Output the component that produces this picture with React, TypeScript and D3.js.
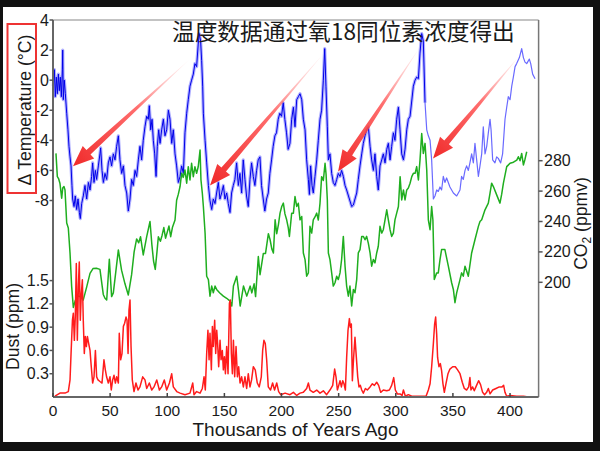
import React from 'react';
import * as d3 from 'd3';

// ---- data ----
// Temperature anomaly (°C) vs thousands of years ago
const TEMP: [number, number][] = [
  [0.3,-0.4],[1.2,0.7],[2.0,-1.1],[2.9,0.2],[3.8,-0.9],[4.7,0.4],[5.5,-0.7],[6.4,0.2],[7.3,-1.1],[8.2,0.7],[8.5,2.0],[9.0,-1.3],[9.9,0],[10.8,-0.9],
  [12,-2.2],[13.1,-3.3],[14,-4.4],[14.9,-5.1],[15.8,-5.7],[16.6,-7.0],[17.2,-7.9],[18.4,-8.4],[19.5,-7.7],[20.7,-8.6],[21.9,-7.9],[23.1,-8.8],[23.9,-9.2],
  [25.1,-8.2],[26.5,-7.7],[28,-7.0],[29.5,-7.9],[31,-6.8],[32.4,-7.3],[33.8,-6.4],[34.7,-5.5],[35.9,-6.8],[37.1,-6.0],[38.2,-6.6],[39.7,-5.7],[41.1,-4.9],
  [41.7,-4.5],[42.9,-6.0],[44.1,-6.8],[45.5,-6.2],[47,-6.6],[48.4,-5.5],[49.9,-5.1],[51.3,-5.7],[52.8,-4.9],[54.3,-5.3],[55.7,-4.4],[57.2,-3.7],[58.6,-5.3],
  [60.1,-6.2],[61.6,-5.7],[63,-7.0],[64.5,-7.5],[65.9,-8.7],[67.4,-7.9],[68.8,-6.6],[70.3,-7.0],[71.8,-6.0],[73.2,-6.4],[74.7,-5.3],[76.1,-4.4],[77.6,-5.3],
  [79,-4.0],[80.5,-3.1],[82,-2.4],[83.4,-2.6],[84.3,-1.7],[85.5,-3.3],[86.7,-2.6],[87.8,-4.0],[89,-4.9],[90.2,-6.4],[91.3,-4.4],[92.5,-3.3],[93.7,-4.2],
  [95.1,-3.3],[96.6,-2.6],[98,-3.7],[99.5,-3.3],[101,-2.0],[102.4,-2.6],[103.9,-4.2],[105.3,-3.3],[106.8,-4.9],[108.2,-5.7],[109.7,-6.8],[111.2,-6.4],
  [112.6,-5.7],[114.1,-6.2],[115.5,-3.5],[117,-2.2],[118.4,-1.3],[119.9,-0.4],[121.3,0],[122.8,0.4],[124.2,1.1],[125.7,0.9],[127.1,2.4],[128,3.1],[129.2,2.6],
  [130.1,1.3],[131,-0.4],[131.6,-2.2],[133.1,-4.0],[134.5,-5.5],[136,-7.0],[137.4,-8.0],[138.9,-8.6],[140.3,-7.9],[141.8,-8.2],[143.2,-7.5],[144.7,-6.8],
  [146.1,-7.9],[147.6,-7.5],[149.1,-7.0],[150.5,-7.9],[152,-7.5],[153.4,-8.2],[154.9,-8.8],[156.3,-7.5],[157.8,-7.0],[159.2,-6.6],[160.7,-5.5],[162.2,-7.0],
  [163.6,-6.2],[165.1,-7.5],[166.5,-5.3],[168,-6.6],[169.4,-7.7],[170.9,-8.4],[172.4,-6.6],[173.8,-5.5],[175.3,-6.4],[176.7,-7.0],[178.2,-6.0],[179.6,-5.3],
  [181.1,-5.1],[182.5,-7.0],[184,-7.9],[185.4,-8.7],[186.9,-7.9],[188.4,-7.5],[189.8,-6.2],[191.3,-5.3],[192.7,-4.4],[194.2,-3.7],[195.6,-3.5],[197.1,-2.6],
  [198.5,-2.2],[200,-2.4],[201.5,-1.5],[202.9,-2.6],[204.4,-3.5],[205.8,-4.6],[207.4,-4.2],[208.9,-2.6],[210.4,-1.8],[211.8,-3.1],[213.3,-1.3],[214.7,-1.1],
  [216.2,-0.9],[217.7,-1.3],[219.1,-2.6],[220.6,-3.3],[222,-5.3],[223.5,-6.6],[224.4,-7.6],[225.5,-5.7],[226.7,-7.0],[227.8,-7.5],[229.3,-6.4],[230.8,-5.3],
  [232.2,-4.0],[233.7,-2.6],[235.1,-2.0],[236.6,0],[237.8,2.1],[238.9,-0.4],[240.1,-3.1],[241,-5.3],[242.4,-4.9],[243.9,-6.2],[245.3,-6.8],[246.8,-7.0],
  [248.3,-6.6],[249.7,-6.2],[251.2,-6.4],[252.6,-6.0],[254.1,-6.4],[255.6,-7.0],[257,-7.3],[259.4,-7.9],[261.4,-8.4],[262.9,-8.3],[264.3,-7.9],[265.8,-7.5],
  [267.2,-6.6],[268.7,-5.7],[270.2,-4.9],[271.6,-4.2],[273.1,-3.7],[274.5,-3.3],[276,-3.1],[277.5,-4.4],[278.9,-5.3],[280.4,-6.0],[281.8,-4.9],[283.3,-6.4],
  [284.7,-7.3],[286.2,-5.7],[287.7,-5.3],[289.1,-4.9],[290.6,-5.5],[292.1,-4.6],[293.5,-4.2],[295,-5.3],[296.4,-4.4],[297.9,-3.5],[299.3,-4.0],[300.8,-2.6],
  [302.3,-1.8],[303.7,-3.3],[305.2,-4.9],[306.7,-5.3],[308.1,-4.6],[309.6,-3.3],[311,-2.6],[312.5,-2.4],[315.4,-0.4],[316.9,0],[318.3,0.2],[319.8,0.1],
  [321.2,1.8],[322.7,3.1],[324.1,2.6],[325.6,-1.5],[327.1,-3.3],[328.5,-3.7],[330,-4.0],[331.4,-5.3],[332.9,-7.9],[334.3,-7.7],[335.8,-7.3],[337.2,-7.4],
  [338.7,-7.1],[340.1,-7.3],[341.6,-6.4],[343,-6.8],[344.5,-6.5],[347.4,-7.1],[350.4,-7.5],[353.3,-7.7],[356.2,-7.3],[357.6,-6.4],[359.1,-6.6],[360.6,-6.0],
  [362,-5.7],[363.5,-6.0],[364.9,-5.5],[366.4,-4.9],[367.9,-5.5],[369.3,-4.2],[370.8,-5.3],[372.3,-6.4],[373.7,-5.7],[375.2,-4.9],[376.6,-3.1],[378.1,-4.9],
  [379.6,-4.4],[381,-3.5],[382.5,-2.6],[383.4,-3.3],[384.8,-5.3],[386.8,-5.5],[388.3,-5.1],[389.7,-5.2],[391.8,-5.5],[393.5,-4.9],[395.6,-2.6],[397.1,-1.8],
  [398.5,-1.1],[400,-1.3],[401.5,-0.4],[402.9,0.2],[404.4,0.9],[405.8,1.1],[408.2,1.5],[410.2,2.1],[411.7,1.5],[413.1,1.2],[414.6,1.1],[416.1,1.3],
  [416.9,1.4],[418.1,1.1],[419.8,0.4],[421.9,0.1],
];

// CO2 (ppmv)
const CO2: [number, number][] = [
  [2.6,284.8],[3.8,269.5],[5,268],[6.1,265],[7.6,255.3],[8.5,262],[9.6,263],[10.5,260.8],[12,239],[13.4,235.7],[14.9,219.3],[16.3,197.5],[17.8,183.5],
  [19.5,188],[21.5,191],[23.6,190.6],[26.5,188.4],[29.5,197],[32.4,205.9],[35,209],[38,209.2],[41.1,208.5],[44,192],[45.5,189.5],[47,188.4],[49.3,215.1],
  [51.3,190.6],[52.8,193],[57.2,221.3],[60,208],[63,199],[65.9,191.7],[68.8,205],[71,220],[73.2,228.5],[75,226],[76.6,230],[79,218],[82,230],[84.9,240],
  [86.5,225],[88,214],[89.5,208.5],[91,220],[92.2,230],[94,227],[95.5,231],[97,236],[98.5,229],[100,233],[101.5,237],[103,230],[104.5,236],[106.8,241],
  [108.2,254],[109.7,258],[111.2,263],[112.6,271.7],[114,269],[115.5,273.9],[117,265.2],[118.4,276.1],[119.9,267.3],[121.3,278.3],[122.8,269.5],[124.2,276],
  [125.7,271.7],[127.1,276],[128.7,287],[129.5,267.3],[130.7,258.6],[131.6,249.9],[133.1,232.4],[134.5,204],[136,201.8],[137.4,190.9],[138.9,197.5],
  [140.3,193.1],[141.8,197.5],[143.2,195.3],[146,193],[149.1,190.9],[152,189.5],[155,187.6],[156.5,184.4],[157.9,197.5],[160.8,204],[162.3,195],[163.8,184.4],
  [166.7,197.5],[169.6,190.9],[172.6,197.5],[174,193],[176,199],[177.3,190.6],[179.7,217],[181.2,205],[184.1,219],[186,219],[188.5,232],[190,228],
  [191.5,222],[192.9,219.3],[194.4,241.1],[195.8,232],[197.3,238],[198.7,245.5],[200.2,249.9],[201.6,252.1],[203,245],[204.5,241.1],[205.9,236],[206.9,230.2],
  [208.9,245.5],[210.4,245.5],[211.8,256.4],[213.3,249.9],[214.7,252],[216.2,241.1],[217.7,243.3],[219.1,219.3],[220.6,214.9],[222,204],[223.5,206.2],
  [224.9,236.8],[226.4,232.4],[227.8,241.1],[229.3,243],[230.8,245.5],[232.2,241],[233.7,252.1],[235.1,269.5],[236.6,267],[238.1,278.3],[239,271],[240.1,254.2],
  [241,219.3],[242.4,214.9],[243.9,206.2],[245.3,197.5],[246.8,199.7],[248.3,204],[249.7,201.8],[251.2,206.2],[252.6,215],[254.1,230.2],[255.6,210.6],
  [257,197.5],[258.5,190.9],[259.9,197.5],[261.4,184.4],[262.9,195.3],[264.3,193.1],[265.8,201.8],[267.2,219.3],[268.7,221.5],[270.2,230.2],[271.6,230.2],
  [273.1,228],[274.5,230.2],[276,225.6],[277.5,219.3],[278.9,210.6],[280.4,215],[281.8,212.8],[283.3,219.3],[284.7,223.7],[286.2,236.8],[287.7,232.4],
  [289.1,234.6],[290.6,241.1],[292.1,247.7],[293.5,241.1],[295,234.6],[296.4,230.2],[297.9,232.4],[299.3,241.1],[300.8,245.5],[302.3,249.9],[303.8,269.5],
  [305.2,254.2],[306.7,260.8],[308.1,254.2],[309.6,260.8],[311,262],[312.5,265.2],[314,269.5],[315.4,271.7],[316.9,271.7],[318.3,276.1],[319.8,267.3],
  [321.2,280.4],[322.7,297.9],[324.1,284.8],[325.6,291.4],[327.1,273.9],[328.5,241.1],[330,234.6],[331.4,249.9],[332.5,241],[333.7,201.8],[335.8,206.2],
  [337.2,206.2],[338.7,214.9],[340.1,221.5],[343,221.5],[346,210.6],[348.9,199.7],[350.4,195.3],[351.8,186.6],[353.3,193],[356.2,201.8],[357.6,206.2],
  [359.1,204],[360.6,210.6],[363.5,204],[366.4,219.3],[369.3,228],[372.3,236.8],[373.7,240],[375.2,241.1],[378.1,247.7],[381,252.1],[382.5,258.6],
  [383.9,265.2],[385.4,263],[388.3,257.5],[391.2,252.1],[392.7,258],[394.2,265.2],[397.1,276.1],[400,278.3],[403,279],[405.9,280.4],[407.3,282.6],
  [408.8,280],[410.2,284.8],[411.7,277.2],[413.1,281],[414.6,285.9],
];

// Dust (ppm)
const DUST: [number, number][] = [
  [1.7,0.01],[6.1,0.05],[10.5,0.05],[13.4,0.07],[14.9,0.22],[15.8,0.56],[17,0.99],[17.8,1.08],[18.7,0.73],[19.5,1.03],[20.4,1.72],[21.3,0.73],[22.2,1.42],
  [23,1.74],[23.9,0.99],[24.8,1.33],[25.7,1.51],[26.5,0.99],[27.4,0.56],[28.3,0.78],[29.2,0.65],[30.1,0.78],[31.2,0.69],[32.4,0.6],[33.5,0.39],[34.7,0.18],
  [35.9,0.26],[37.1,0.6],[38.2,0.26],[39.4,0.22],[41.1,0.2],[42.9,0.18],[44.6,0.48],[45.8,0.35],[46.9,0.26],[48.4,0.18],[49.9,0.26],[51,0.09],[52.2,0.22],
  [53.4,0.28],[54.6,0.18],[55.7,0.26],[57.2,0.18],[58,0.82],[59.2,0.48],[60.4,0.56],[61.6,0.91],[62.7,0.95],[63.9,1.03],[64.8,0.99],[65.7,0.56],[66.5,1.12],
  [67.4,1.25],[68.3,0.65],[69.4,0.22],[70.9,0.07],[72.6,0.18],[74.4,0.09],[76.1,0.13],[78.5,0.26],[80.5,0.22],[82,0.11],[84.3,0.18],[86.4,0.09],[88.4,0.13],
  [90.8,0.22],[93.1,0.09],[95.1,0.13],[97.4,0.22],[99.5,0.09],[101.9,0.18],[103.9,0.3],[105.3,0.13],[108.3,0.07],[111.2,0.05],[115.5,0.03],[119.9,0.05],
  [122.3,0.18],[123.4,0.03],[125.7,0.07],[128.7,0.05],[130.7,0.11],[132.2,0.26],[133.3,0.09],[134.5,0.56],[135.6,0.86],[136.6,0.48],[137.4,0.82],[138.6,0.35],
  [139.5,0.91],[140.3,0.65],[141.5,0.99],[142.4,0.56],[143.3,0.86],[144.1,0.69],[145,0.39],[146.2,0.73],[147.1,0.48],[148.2,0.6],[149.1,0.35],[150,0.52],
  [150.9,0.3],[152,0.65],[153.2,0.3],[154.4,1.21],[155.2,1.25],[156.1,0.56],[157,0.3],[157.9,0.73],[159,0.26],[160.2,0.65],[161.4,0.26],[162.5,0.39],
  [163.7,0.18],[165.1,0.26],[166.6,0.13],[168,0.26],[169.5,0.11],[170.9,0.3],[172.4,0.13],[173.8,0.22],[175.3,0.39],[177,0.35],[178.8,0.18],[180.5,0.13],
  [182.3,0.26],[183.5,0.6],[184.6,0.73],[185.8,0.69],[187,0.48],[188.4,0.13],[190.4,0.09],[192.2,0.18],[193.9,0.09],[195.8,0.18],[197.5,0.07],[199.3,0.03],
  [203.1,0.05],[207.4,0.03],[210.4,0.06],[213.3,0.02],[216.2,0.05],[219.1,0.06],[222,0.11],[223.5,0.18],[224.9,0.09],[227.8,0.06],[230.8,0.09],[233.7,0.05],
  [236.6,0.08],[239.5,0.03],[242.4,0.09],[244.8,0.15],[246.5,0.36],[247.7,0.26],[248.9,0.09],[250.1,0.15],[251.2,0.21],[252.4,0.13],[253.6,0.21],[254.7,0.17],
  [255.9,0.09],[257,0.51],[258.2,0.86],[259.4,1.01],[260.2,0.9],[261.1,0.94],[262,0.21],[263.1,0.51],[264.3,0.77],[265.5,0.51],[266.7,0.26],[267.8,0.13],
  [269,0.15],[270.2,0.09],[271.6,0.05],[273.4,0.11],[275.1,0.09],[277.5,0.13],[279.5,0.17],[281.3,0.15],[283.3,0.19],[285,0.15],[286.8,0.06],[289.1,0.09],
  [292.1,0.08],[294.4,0.09],[296.4,0.15],[298.2,0.25],[299.6,0.09],[301.4,0.04],[303.7,0.04],[305.5,0.02],[306.7,0.09],[308.4,0.01],[311,0.03],[314,0.01],
  [318.3,0.01],[322.7,0.01],[326.5,0.01],[328.5,0.09],[330,0.17],[331.4,0.39],[332.9,0.69],[334,0.94],[334.9,1.03],[335.8,0.81],[336.6,0.51],[337.8,0.39],
  [339,0.43],[340.1,0.34],[341.3,0.17],[342.5,0.06],[343.9,0.17],[345.7,0.3],[347.4,0.36],[349.8,0.39],[352.1,0.39],[354.1,0.35],[356.2,0.3],[358.2,0.19],
  [360,0.11],[362,0.09],[363.8,0.13],[364.9,0.25],[365.8,0.09],[367.2,0.13],[368.7,0.08],[370.7,0.15],[372.5,0.21],[374.2,0.16],[376,0.06],[377.7,0.03],
  [379.5,0.06],[381,0.11],[382.5,0.04],[384.8,0.09],[387.7,0.11],[390.6,0.13],[393,0.13],[394.4,0.15],[395.6,0.06],[397.1,0.01],[400,0.02],[405.8,0.01],
  [411.7,0.01],[416.1,0.0],
];

const X_TICKS = [0, 50, 100, 150, 200, 250, 300, 350, 400];
const TEMP_TICKS = [4, 2, 0, -2, -4, -6, -8];
const CO2_TICKS = [200, 220, 240, 260, 280];
const DUST_TICKS = [0.3, 0.6, 0.9, 1.2, 1.5];

// annotation arrows: [tail year, tail °C] -> [head year, head °C]
const ARROW_FROM: [number, number][] = [[119.9, 1.4], [237.2, 1.8], [321.2, 2.2], [408.8, 1.67]];
const ARROW_TO: [number, number][] = [[17.5, -5.73], [137.4, -7.0], [249.5, -6.07], [332.6, -5.2]];

const TITLE = '温度数据通过氧18同位素浓度得出';
const X_LABEL = 'Thousands of Years Ago';
const TEMP_LABEL = 'Δ Temperature (°C)';
const DUST_LABEL = 'Dust (ppm)';

const SANS = '"Liberation Sans", Arial, Helvetica, sans-serif';

export default function App() {
  const W = 600, H = 451;
  const x = d3.scaleLinear().domain([0, 425]).range([53, 538.6]);
  const yT = d3.scaleLinear().domain([-8, 4]).range([200.5, 20]);
  const yC = d3.scaleLinear().domain([200, 280]).range([282.3, 160.7]);
  const yD = d3.scaleLinear().domain([0, 1.5]).range([397, 280.6]);

  const tLine = d3.line<[number, number]>().x(d => x(d[0])).y(d => yT(d[1]));
  const cLine = d3.line<[number, number]>().x(d => x(d[0])).y(d => yC(d[1]));
  const dLine = d3.line<[number, number]>().x(d => x(d[0])).y(d => yD(d[1]));

  const split = 325.6;
  const tDense = TEMP.filter(d => d[0] <= split);
  const tThin = TEMP.filter(d => d[0] >= split);

  const left = x(0), right = x(425), top = yT(4), bottom = yD(0);

  const arrows = ARROW_FROM.map((f, i) => {
    const t = ARROW_TO[i];
    const x1 = x(f[0]), y1 = yT(f[1]), x2 = x(t[0]), y2 = yT(t[1]);
    const len = Math.hypot(x2 - x1, y2 - y1);
    const ux = (x2 - x1) / len, uy = (y2 - y1) / len;
    const nx = -uy, ny = ux;
    const hl = 21, hw = 8.5, sw = 3;
    const bx = x2 - ux * hl, by = y2 - uy * hl;
    const pts = [
      [x1, y1],
      [bx + nx * sw, by + ny * sw],
      [bx + nx * hw, by + ny * hw],
      [x2, y2],
      [bx - nx * hw, by - ny * hw],
      [bx - nx * sw, by - ny * sw],
    ];
    return { x1, y1, x2, y2, d: 'M' + pts.map(p => p.join(',')).join('L') + 'Z' };
  });

  return (
    <svg width={W} height={H} style={{ position: 'absolute', left: 0, top: 0, background: '#111' }}>
      <defs>
        {arrows.map((a, i) => (
          <linearGradient key={i} id={'ag' + i} gradientUnits="userSpaceOnUse" x1={a.x1} y1={a.y1} x2={a.x2} y2={a.y2}>
            <stop offset="0" stopColor="#ffb0b0" stopOpacity="0.1" />
            <stop offset="0.45" stopColor="#ff5555" stopOpacity="0.85" />
            <stop offset="1" stopColor="#f02a2a" stopOpacity="1" />
          </linearGradient>
        ))}
      </defs>
      <rect x={3} y={7} width={590} height={435} fill="#fff" />

      {/* data lines */}
      <path d={tLine(tDense) || ''} fill="none" stroke="#6060ff" strokeOpacity={0.5} strokeWidth={3.2} strokeLinejoin="round" />
      <path d={tLine(tDense) || ''} fill="none" stroke="#0000e8" strokeWidth={1} strokeLinejoin="round" />
      <path d={tLine(tThin) || ''} fill="none" stroke="#6a6aff" strokeWidth={1.2} strokeLinejoin="round" />
      <path d={cLine(CO2) || ''} fill="none" stroke="#1fae1f" strokeWidth={1.5} strokeLinejoin="round" />
      <path d={dLine(DUST) || ''} fill="none" stroke="#ff1c1c" strokeWidth={1.5} strokeLinejoin="round" />

      {/* frame */}
      <line x1={left} x2={right} y1={top} y2={top} stroke="#888" strokeWidth={1.2} />
      <line x1={right} x2={right} y1={top} y2={bottom} stroke="#777" strokeWidth={1.5} />
      <line x1={left} x2={left} y1={top} y2={bottom} stroke="#666" strokeWidth={2} />
      <line x1={left} x2={right} y1={bottom} y2={bottom} stroke="#666" strokeWidth={2} />

      {/* x axis */}
      {X_TICKS.map(v => (
        <g key={'x' + v}>
          <line x1={x(v)} x2={x(v)} y1={bottom} y2={bottom - 4} stroke="#444" strokeWidth={1.5} />
          <text x={x(v)} y={415.5} textAnchor="middle" fontFamily={SANS} fontSize={15.5} fill="#1a1a1a">{v}</text>
        </g>
      ))}
      <text x={295.5} y={436} textAnchor="middle" fontFamily={SANS} fontSize={19} fill="#1a1a1a">{X_LABEL}</text>

      {/* temperature axis */}
      {TEMP_TICKS.map(v => (
        <g key={'t' + v}>
          <line x1={left - 3.5} x2={left} y1={yT(v)} y2={yT(v)} stroke="#555" strokeWidth={1.5} />
          <text x={49} y={yT(v) + 5.5} textAnchor="end" fontFamily={SANS} fontSize={16} fill="#1a1a1a">{v < 0 ? '-' + Math.abs(v) : v}</text>
        </g>
      ))}
      <text transform="translate(31,110) rotate(-90)" textAnchor="middle" fontFamily={SANS} fontSize={17.6} fill="#1a1a1a">{TEMP_LABEL}</text>
      <rect x={7.5} y={24} width={28.5} height={169} fill="none" stroke="#ee3333" strokeWidth={2} />

      {/* dust axis */}
      {DUST_TICKS.map(v => (
        <g key={'d' + v}>
          <line x1={left - 3.5} x2={left} y1={yD(v)} y2={yD(v)} stroke="#555" strokeWidth={1.5} />
          <text x={49} y={yD(v) + 5.5} textAnchor="end" fontFamily={SANS} fontSize={16} fill="#1a1a1a">{v.toFixed(1)}</text>
        </g>
      ))}
      <text transform="translate(18.5,326.5) rotate(-90)" textAnchor="middle" fontFamily={SANS} fontSize={17.6} fill="#1a1a1a">{DUST_LABEL}</text>

      {/* CO2 axis */}
      {CO2_TICKS.map(v => (
        <g key={'c' + v}>
          <line x1={right} x2={right + 4} y1={yC(v)} y2={yC(v)} stroke="#555" strokeWidth={1.5} />
          <text x={544} y={yC(v) + 5.5} textAnchor="start" fontFamily={SANS} fontSize={16} fill="#1a1a1a">{v}</text>
        </g>
      ))}
      <text transform="translate(586.5,223.5) rotate(-90)" textAnchor="middle" fontFamily={SANS} fontSize={17.6} fill="#1a1a1a">
        CO<tspan fontSize={12} dy={4}>2</tspan><tspan dy={-4}> (ppmv)</tspan>
      </text>

      {/* annotation arrows */}
      {arrows.map((a, i) => (
        <path key={'a' + i} d={a.d} fill={`url(#ag${i})`} />
      ))}

      {/* title */}
      <text x={172} y={40} fontFamily='"Noto Sans CJK SC", sans-serif' fontSize={22.7} fill="#1a1a1a">{TITLE}</text>
    </svg>
  );
}
